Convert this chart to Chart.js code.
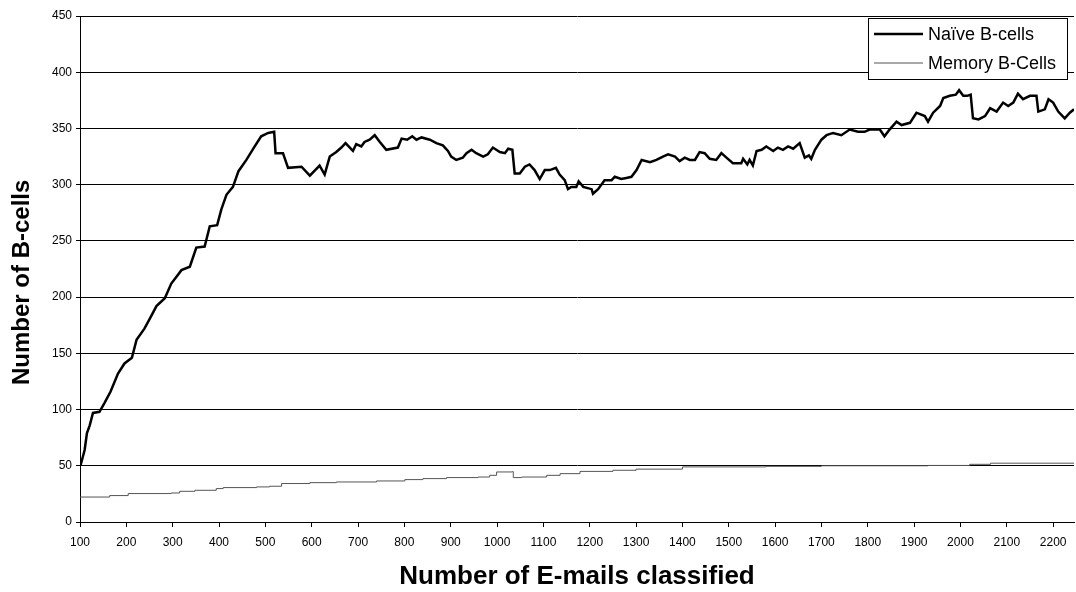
<!DOCTYPE html>
<html>
<head>
<meta charset="utf-8">
<script src="https://cdn.jsdelivr.net/npm/chart.js@4.4.1/dist/chart.umd.min.js"></script>
<style>
  html, body { margin: 0; padding: 0; background: #ffffff; }
  #wrap { width: 1076px; height: 592px; }
</style>
</head>
<body>
<div id="wrap"><canvas id="c" width="1076" height="592"></canvas></div>
<script>
// ---- data ----
const naiveLabel = "Naïve B-cells";
const memoryLabel = "Memory B-Cells";

const naiveX = [101,110,115,121,128,142,153,166,182,196,212,222,239,251,265,283,297,319,337,351,369,380,396,405,416,430,442,459,477,491,506,519,522,538,549,578,596,617,628,
  632,639,653,664,673,689,696,707,714,725,736,747,761,786,794,806,817,826,837,855,869,883,894,901,912,926,934,945,955,970,980,991,1006,1017,1024,1033,1038,1049,1060,1070,1081,1092,1103,1114,1127,1135,1146,1153,
  1160,1171,1176,1186,1204,1207,1218,1232,1247,1254,1268,1279,1290,1301,1312,1330,1344,1358,1369,1384,1394,1405,1416,1427,1437,1448,1459,1473,1484,1495,1509,1527,1531,1540,1545,1552,1560,1571,1581,1596,1606,1617,1628,1639,1653,1664,1673,
  1678,1686,1700,1711,1725,1743,1761,1779,1793,1804,1826,1836,1847,1862,1873,1891,1905,1923,1930,1941,1956,1963,1977,1990,1997,2006,2014,2022,2027,2039,2053,2064,2078,2092,2103,2114,2124,2135,2150,2164,2168,2182,2190,2200,2211,2225,2236,2245];
const naiveY = [50,64,79,86,97,98,106,116,132,141,146,162,172,181,192,199,212,224,227,244,245,263,264,278,291,298,312,322,334,343,346,347,328,328,315,316,308,317,309,
  315,325,329,333,337,330,336,334,338,340,344,338,331,333,341,340,343,340,342,340,337,335,330,325,322,324,328,331,328,325,327,333,329,328,332,331,310,310,316,318,313,305,313,313,315,309,304,296,
  298,298,303,298,296,292,296,304,304,307,305,306,307,313,322,320,322,325,327,325,321,324,322,322,329,328,323,322,328,324,319,319,323,318,322,317,330,331,334,330,333,331,334,332,337,324,326,
  323,331,340,344,346,344,349,347,347,349,349,343,349,356,353,355,364,361,356,364,370,377,379,380,384,379,379,380,359,358,361,368,365,373,370,373,381,376,379,379,365,367,376,373,365,359,364,367];

const memoryX = [100,164,204,297,315,348,394,409,481,509,535,596,653,740,801,840,891,959,984,999,1033,1035,1053,1107,1136,1179,1250,1300,1400,1580,1700,1930,2020,2065,2245];
const memoryY = [22.2,23.5,25.3,25.8,27.3,28.2,29.7,30.6,31.2,31.8,34.2,35,35.6,36.5,37.7,38.6,39.5,40,41.5,44.5,44.8,39.5,40,41.5,43,45,46,47,49,49.5,50,50.3,51.3,52.3,52.5];

const yTickValues = [0,50,100,150,200,250,300,350,400,450];
const xTickValues = [100,200,300,400,500,600,700,800,900,1000,1100,1200,1300,1400,1500,1600,1700,1800,1900,2000,2100,2200];
const xMin = 100, xMax = 2245;

const naivePoints = naiveX.map((x, i) => ({ x: x, y: naiveY[i] }));
const memoryPoints = memoryX.map((x, i) => ({ x: x, y: memoryY[i] }));

const FONT = '"Liberation Sans", Arial, sans-serif';

// legend drawn inside the plot area, top-right
const boxLegend = {
  id: 'boxLegend',
  afterDraw(chart) {
    const ctx = chart.ctx;
    const x0 = 868, y0 = 18, w = 199, h = 61;
    ctx.save();
    ctx.fillStyle = '#ffffff';
    ctx.fillRect(x0, y0, w, h);
    ctx.strokeStyle = '#000000';
    ctx.lineWidth = 1;
    ctx.strokeRect(x0 + 0.5, y0 + 0.5, w, h);
    ctx.font = '18px ' + FONT;
    ctx.textBaseline = 'middle';
    const rows = [34, 63];
    chart.data.datasets.forEach((ds, i) => {
      const cy = rows[i];
      ctx.beginPath();
      ctx.strokeStyle = ds.borderColor;
      ctx.lineWidth = i === 0 ? 2.5 : 1.2;
      ctx.moveTo(874, cy);
      ctx.lineTo(923, cy);
      ctx.stroke();
      ctx.fillStyle = '#000000';
      ctx.fillText(ds.label, 928, cy + 1);
    });
    ctx.restore();
  }
};

new Chart(document.getElementById('c'), {
  type: 'line',
  data: {
    datasets: [
      { label: naiveLabel, data: naivePoints, borderColor: '#000000', borderWidth: 2.5, pointRadius: 0, tension: 0, fill: false },
      { label: memoryLabel, data: memoryPoints, borderColor: '#555555', borderWidth: 1, pointRadius: 0, tension: 0, fill: false, stepped: true }
    ]
  },
  options: {
    responsive: false,
    animation: false,
    devicePixelRatio: 1,
    layout: { padding: { top: 16, right: 2, left: 0, bottom: 0 } },
    plugins: { legend: { display: false }, tooltip: { enabled: false } },
    scales: {
      x: {
        type: 'linear',
        min: xMin, max: xMax,
        afterBuildTicks(scale) { scale.ticks = xTickValues.map(v => ({ value: v })); },
        afterFit(scale) { scale.height = 70; },
        ticks: { autoSkip: false, maxRotation: 0, color: '#000', padding: 8,
                 callback: (v) => String(v),
                 font: { family: FONT, size: 12 } },
        grid: { drawOnChartArea: false, drawTicks: true, tickLength: 5, color: '#000', lineWidth: 1 },
        border: { display: true, color: '#000', width: 1 },
        title: { display: true, text: 'Number of E-mails classified', color: '#000',
                 font: { family: FONT, size: 26, weight: 'bold' },
                 padding: { top: 0, bottom: 0 } }
      },
      y: {
        min: 0, max: 450,
        afterBuildTicks(scale) { scale.ticks = yTickValues.map(v => ({ value: v })); },
        afterFit(scale) { scale.width = 80; },
        ticks: { color: '#000', padding: 4, callback: (v) => String(v),
                 font: { family: FONT, size: 12 } },
        grid: { color: '#000', lineWidth: 1, tickLength: 4 },
        border: { display: true, color: '#000', width: 1 },
        title: { display: true, text: 'Number of B-cells    ', color: '#000',
                 font: { family: FONT, size: 24, weight: 'bold' },
                 padding: { top: 8, bottom: 0 } }
      }
    }
  },
  plugins: [boxLegend]
});
</script>
</body>
</html>
